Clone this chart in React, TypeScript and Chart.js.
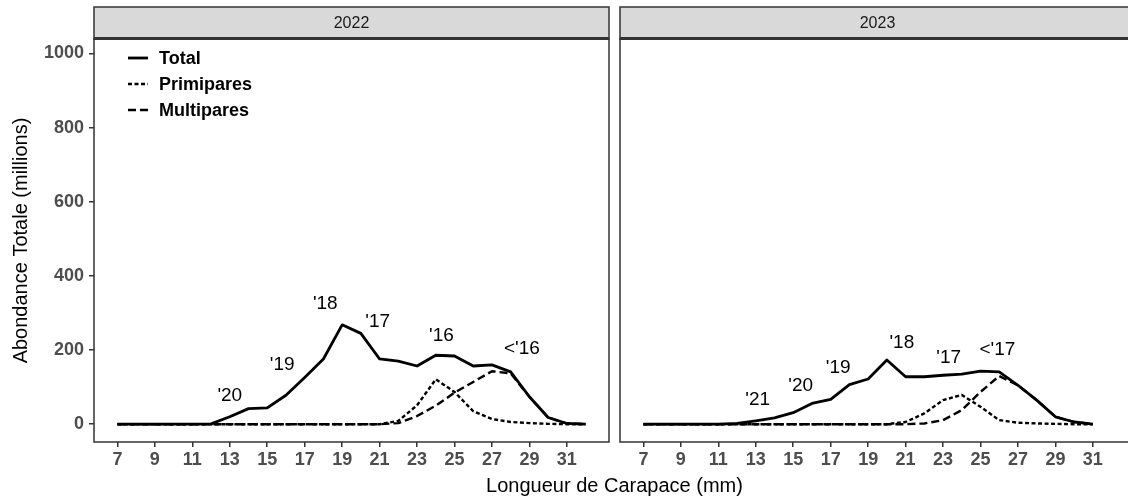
import React, { useEffect, useRef } from "react";
import { Chart, registerables } from "chart.js";

Chart.register(...registerables);

// ---------- data ----------
const lengths2022 = [7, 8, 9, 10, 11, 12, 13, 14, 15, 16, 17, 18, 19, 20, 21, 22, 23, 24, 25, 26, 27, 28, 29, 30, 31, 32];
const total2022 = [0, 0, 0, 0, 0, 1, 20, 42, 44, 78, 126, 176, 268, 245, 176, 170, 157, 186, 184, 157, 160, 141, 74, 18, 2, 0];
const primi2022 = [0, 0, 0, 0, 0, 0, 0, 0, 0, 0, 0, 0, 0, 0, 0, 9, 51, 121, 87, 35, 14, 6, 3, 1, 0, 0];
const multi2022 = [0, 0, 0, 0, 0, 0, 0, 0, 0, 0, 0, 0, 0, 0, 0, 3, 22, 50, 85, 114, 143, 137, 74, 18, 2, 0];

const lengths2023 = [7, 8, 9, 10, 11, 12, 13, 14, 15, 16, 17, 18, 19, 20, 21, 22, 23, 24, 25, 26, 27, 28, 29, 30, 31];
const total2023 = [0, 0, 0, 0, 0, 2, 9, 17, 31, 56, 67, 107, 122, 173, 128, 128, 132, 135, 143, 141, 105, 65, 20, 6, 0];
const primi2023 = [0, 0, 0, 0, 0, 0, 0, 0, 0, 0, 0, 0, 0, 0, 6, 29, 65, 79, 47, 11, 4, 2, 1, 0, 0];
const multi2023 = [0, 0, 0, 0, 0, 0, 0, 0, 0, 0, 0, 0, 0, 0, 0, 2, 11, 38, 87, 130, 105, 65, 20, 6, 0];

const cohortText2022 = ["'20", "'19", "'18", "'17", "'16", "<'16"];
const cohortX2022 = [13.0, 15.8, 18.1, 20.9, 24.3, 28.6];
const cohortY2022 = [78, 160, 324, 276, 238, 203];

const cohortText2023 = ["'21", "'20", "'19", "'18", "'17", "<'17"];
const cohortX2023 = [13.1, 15.4, 17.4, 20.8, 23.3, 25.9];
const cohortY2023 = [65, 105, 152, 220, 180, 200];

const xTicks = [7, 9, 11, 13, 15, 17, 19, 21, 23, 25, 27, 29, 31];
const yTicks = [0, 200, 400, 600, 800, 1000];
const seriesNames = ["Total", "Primipares", "Multipares"];
const panelTitles = ["2022", "2023"];

const FONT = "'Liberation Sans', Arial, sans-serif";
const X_MIN = 5.75;
const X_MAX = 33.25;
const Y_MIN = -48;
const Y_MAX = 1039;

const styles = [
  { width: 2.8, dash: [] as number[] },
  { width: 2.4, dash: [4, 2.5] },
  { width: 2.4, dash: [8, 4] },
];

function pts(xs: number[], ys: number[]) {
  return xs.map((x, i) => ({ x, y: ys[i] }));
}

const panelPlugin = {
  id: "panelDeco",
  afterDatasetsDraw(chart: any, _args: any, opts: any) {
    const { ctx, chartArea, scales } = chart;
    const { left, right, top, bottom } = chartArea;
    ctx.save();
    // cohort annotations
    ctx.fillStyle = "#000";
    ctx.font = `19px ${FONT}`;
    ctx.textAlign = "center";
    ctx.textBaseline = "middle";
    const texts: string[] = opts.texts || [];
    texts.forEach((t, i) => {
      ctx.fillText(t, scales.x.getPixelForValue(opts.xs[i]), scales.y.getPixelForValue(opts.ys[i]));
    });
    // panel border
    ctx.strokeStyle = "#333333";
    ctx.lineWidth = 1.5;
    ctx.strokeRect(left, top, right - left, bottom - top);
    // strip
    const sTop = 7;
    ctx.fillStyle = "#d9d9d9";
    ctx.fillRect(left, sTop, right - left, top - sTop);
    ctx.strokeRect(left, sTop, right - left, top - sTop);
    ctx.lineWidth = 3;
    ctx.beginPath();
    ctx.moveTo(left, top - 0.5);
    ctx.lineTo(right, top - 0.5);
    ctx.stroke();
    ctx.fillStyle = "#1a1a1a";
    ctx.font = `16px ${FONT}`;
    ctx.fillText(opts.title, (left + right) / 2, (sTop + top) / 2 + 1);
    // legend
    if (opts.legend) {
      const x0 = left + 34;
      let y = 58;
      chart.data.datasets.forEach((ds: any) => {
        ctx.strokeStyle = "#000";
        ctx.lineWidth = ds.borderWidth;
        ctx.setLineDash(ds.borderDash || []);
        ctx.beginPath();
        ctx.moveTo(x0, y);
        ctx.lineTo(x0 + 20, y);
        ctx.stroke();
        ctx.setLineDash([]);
        ctx.fillStyle = "#000";
        ctx.font = `bold 18px ${FONT}`;
        ctx.textAlign = "left";
        ctx.fillText(ds.label, x0 + 31, y + 1);
        y += 26;
      });
    }
    // y title
    if (opts.yTitle) {
      ctx.save();
      ctx.translate(21, (top + bottom) / 2);
      ctx.rotate(-Math.PI / 2);
      ctx.textAlign = "center";
      ctx.textBaseline = "middle";
      ctx.fillStyle = "#000";
      ctx.font = `20px ${FONT}`;
      ctx.fillText(opts.yTitle, 0, 0);
      ctx.restore();
    }
    ctx.restore();
  },
};

function makeConfig(
  xs: number[],
  tot: number[],
  pri: number[],
  mul: number[],
  deco: any,
  showY: boolean,
  padLeft: number,
  padRight: number
): any {
  const series = [tot, pri, mul];
  return {
    type: "line",
    data: {
      datasets: series.map((s, i) => ({
        label: seriesNames[i],
        data: pts(xs, s),
        borderColor: "#000",
        backgroundColor: "#000",
        borderWidth: styles[i].width,
        borderDash: styles[i].dash,
        pointRadius: 0,
        tension: 0,
        fill: false,
        borderJoinStyle: "round",
      })),
    },
    options: {
      responsive: false,
      animation: false,
      events: [],
      layout: { padding: { top: 39, left: padLeft, right: padRight, bottom: 0 } },
      plugins: { legend: { display: false }, tooltip: { enabled: false }, panelDeco: deco },
      scales: {
        x: {
          type: "linear",
          min: X_MIN,
          max: X_MAX,
          afterBuildTicks: (a: any) => {
            a.ticks = xTicks.map((v) => ({ value: v }));
          },
          afterFit: (a: any) => {
            a.height = 55;
          },
          grid: { drawOnChartArea: false, drawTicks: true, tickLength: 5, color: "#333333", lineWidth: 1.5 },
          border: { display: false },
          ticks: {
            autoSkip: false,
            maxRotation: 0,
            padding: 2,
            color: "#4d4d4d",
            font: { family: FONT, size: 18, weight: "bold" },
            callback: (v: any) => String(v),
          },
        },
        y: {
          type: "linear",
          display: showY,
          min: Y_MIN,
          max: Y_MAX,
          afterBuildTicks: (a: any) => {
            a.ticks = yTicks.map((v) => ({ value: v }));
          },
          afterFit: (a: any) => {
            a.width = showY ? 94 : 0;
          },
          grid: { drawOnChartArea: false, drawTicks: true, tickLength: 5, color: "#333333", lineWidth: 1.5 },
          border: { display: false },
          ticks: {
            padding: 5,
            color: "#4d4d4d",
            font: { family: FONT, size: 18, weight: "bold" },
            callback: (v: any) => String(v),
          },
        },
      },
    },
    plugins: [panelPlugin],
  };
}

export default function App() {
  const leftRef = useRef<HTMLCanvasElement>(null);
  const rightRef = useRef<HTMLCanvasElement>(null);

  useEffect(() => {
    document.body.style.margin = "0";
    const c1 = new Chart(
      leftRef.current!,
      makeConfig(
        lengths2022,
        total2022,
        primi2022,
        multi2022,
        {
          title: panelTitles[0],
          texts: cohortText2022,
          xs: cohortX2022,
          ys: cohortY2022,
          legend: true,
          yTitle: "Abondance Totale (millions)",
        },
        true,
        0,
        5
      )
    );
    const c2 = new Chart(
      rightRef.current!,
      makeConfig(
        lengths2023,
        total2023,
        primi2023,
        multi2023,
        {
          title: panelTitles[1],
          texts: cohortText2023,
          xs: cohortX2023,
          ys: cohortY2023,
          legend: false,
        },
        false,
        6,
        0
      )
    );
    return () => {
      c1.destroy();
      c2.destroy();
    };
  }, []);

  return (
    <div style={{ position: "relative", width: 1128, height: 497, overflow: "hidden", background: "#fff" }}>
      <canvas ref={leftRef} width={614} height={497} style={{ position: "absolute", left: 0, top: 0 }} />
      <canvas ref={rightRef} width={521} height={497} style={{ position: "absolute", left: 614, top: 0 }} />
      <div
        style={{
          position: "absolute",
          left: 314.5,
          width: 600,
          top: 474,
          textAlign: "center",
          font: `20px ${FONT}`,
          lineHeight: "22px",
          color: "#000",
        }}
      >
        Longueur de Carapace (mm)
      </div>
    </div>
  );
}
